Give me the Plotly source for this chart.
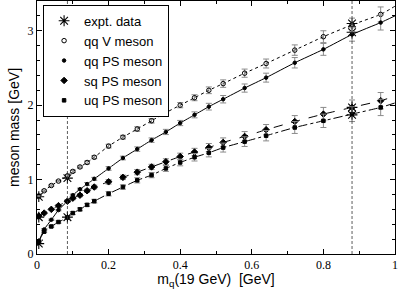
import plotly.graph_objects as go

# ---------------- data ----------------
mq = [0.005, 0.02, 0.04, 0.06, 0.085, 0.10, 0.12, 0.14, 0.16, 0.20, 0.24, 0.28,
      0.32, 0.36, 0.40, 0.44, 0.48, 0.52, 0.58, 0.64, 0.72, 0.80, 0.88, 0.96]

qqV = [0.78, 0.85, 0.92, 0.98, 1.05, 1.11, 1.17, 1.23, 1.30, 1.45, 1.57, 1.68,
       1.79, 1.90, 2.00, 2.10, 2.20, 2.29, 2.43, 2.56, 2.74, 2.92, 3.08, 3.22]
qqPS = [0.17, 0.33, 0.46, 0.59, 0.71, 0.79, 0.87, 0.94, 1.01, 1.15, 1.29, 1.41,
        1.53, 1.64, 1.76, 1.87, 1.98, 2.08, 2.23, 2.37, 2.57, 2.75, 2.95, 3.11]
sqPS = [0.51, 0.55, 0.60, 0.65, 0.71, 0.75, 0.79, 0.85, 0.90, 0.97, 1.03, 1.10,
        1.17, 1.24, 1.31, 1.37, 1.43, 1.50, 1.58, 1.67, 1.78, 1.88, 1.97, 2.06]
uqPS = [0.17, 0.30, 0.37, 0.43, 0.49, 0.55, 0.60, 0.66, 0.71, 0.81, 0.90, 0.99,
        1.06, 1.15, 1.23, 1.30, 1.36, 1.43, 1.51, 1.59, 1.70, 1.79, 1.88, 1.97]

errV = [0.01, 0.01, 0.01, 0.01, 0.015, 0.015, 0.015, 0.02, 0.02, 0.025, 0.025, 0.03,
        0.03, 0.035, 0.035, 0.04, 0.045, 0.05, 0.055, 0.06, 0.07, 0.08, 0.09, 0.10]
errPS = errV
errSq = [0.01, 0.01, 0.01, 0.015, 0.015, 0.02, 0.02, 0.02, 0.025, 0.03, 0.03, 0.035,
         0.035, 0.04, 0.045, 0.05, 0.055, 0.06, 0.065, 0.07, 0.08, 0.09, 0.10, 0.11]
errUq = errSq

# fit-curve end values at m_q = 1
fit_end_x = 1.0
fit_end = {"V": 3.33, "PS": 3.20, "sq": 2.12, "uq": 2.03}

expt_x = [0.005, 0.005, 0.005, 0.085, 0.085, 0.88, 0.88, 0.88, 0.88]
expt_y = [0.14, 0.77, 0.495, 0.495, 1.02, 3.097, 2.98, 1.97, 1.87]

ref_lines = [0.085, 0.88]

# ---------------- figure ----------------
fig = go.Figure()

series = [
    ("qq V meson", qqV, errV, "circle-open", 4.5, "dot", fit_end["V"]),
    ("qq PS meson", qqPS, errPS, "circle", 3.5, "solid", fit_end["PS"]),
    ("sq PS meson", sqPS, errSq, "diamond", 5, "dash", fit_end["sq"]),
    ("uq PS meson", uqPS, errUq, "square", 3.5, "dashdot", fit_end["uq"]),
]

# fit lines (no legend)
for name, ys, err, sym, size, dash, end in series:
    fig.add_trace(go.Scatter(
        x=mq + [fit_end_x], y=ys + [end], mode="lines",
        line=dict(color="black", width=1, dash=dash, shape="spline", smoothing=0.5),
        showlegend=False, hoverinfo="skip"))

fig.add_trace(go.Scatter(
    x=expt_x, y=expt_y, mode="markers", name="expt. data",
    marker=dict(symbol="asterisk-open", size=9, color="black",
                line=dict(color="black", width=1.1))))

for name, ys, err, sym, size, dash, end in series:
    fig.add_trace(go.Scatter(
        x=mq, y=ys, mode="markers", name=name,
        marker=dict(symbol=sym, size=size, color="black",
                    line=dict(color="black", width=1)),
        error_y=dict(type="data", array=err, visible=True,
                     color="#8a8a8a", thickness=1, width=3)))

for xv in ref_lines:
    fig.add_shape(type="line", x0=xv, x1=xv, y0=0, y1=1, xref="x", yref="paper",
                  line=dict(color="#333333", width=0.8, dash="3px,2px"))

tickfont = dict(family="Liberation Serif", size=12, color="black")
titlefont = dict(family="Liberation Sans", size=14, color="black")

fig.update_xaxes(
    range=[0, 1], dtick=0.2, tick0=0, tickformat="~g", automargin=False,
    showgrid=False, zeroline=False, showline=True, linecolor="black", linewidth=1,
    mirror="ticks", ticks="inside", ticklen=5, tickcolor="black",
    minor=dict(ticks="inside", dtick=0.1, ticklen=3, tickcolor="black"),
    tickfont=tickfont,
    title=dict(text="m<sub>q</sub>(19 GeV)  [GeV]", font=titlefont, standoff=2))
fig.update_yaxes(
    range=[0, 3.4], dtick=1, tick0=0, automargin=False,
    showgrid=False, zeroline=False, showline=True, linecolor="black", linewidth=1,
    mirror="ticks", ticks="inside", ticklen=5, tickcolor="black",
    minor=dict(ticks="inside", dtick=0.2, ticklen=3, tickcolor="black"),
    tickfont=tickfont,
    title=dict(text="meson mass [GeV]", font=titlefont, standoff=4))

fig.update_layout(
    width=398, height=289,
    margin=dict(l=37, r=3, t=1, b=35, autoexpand=False),
    paper_bgcolor="white", plot_bgcolor="white",
    showlegend=True,
    legend=dict(x=0.017, y=0.985, xanchor="left", yanchor="top",
                bgcolor="white", bordercolor="black", borderwidth=1,
                font=dict(family="Liberation Sans", size=13, color="black"),
                itemwidth=30, tracegroupgap=0),
)

fig.write_html("out.html", config={"displayModeBar": False},
               post_script="document.body.style.margin='0';document.body.style.padding='0';")
